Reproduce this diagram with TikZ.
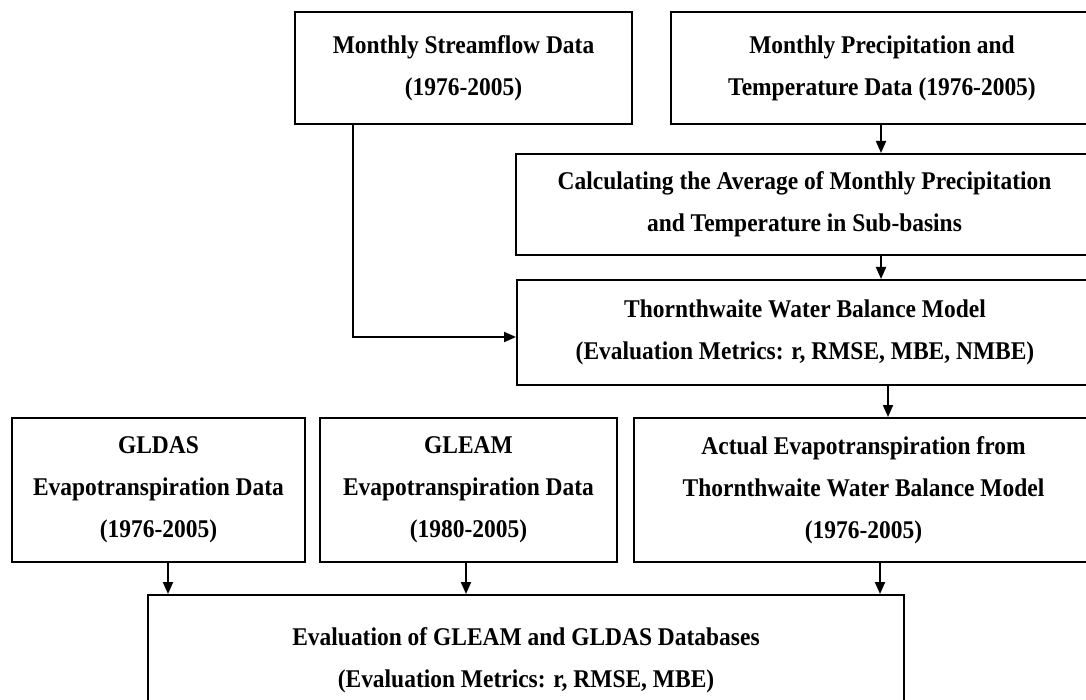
\documentclass[tikz,border=0pt]{standalone}
\usepackage{fontspec}
\setmainfont{Liberation Serif}[FakeStretch=0.92]
\usetikzlibrary{arrows.meta}
\begin{document}
\begin{tikzpicture}[x=1pt,y=-1pt,
  box/.style={draw, line width=2pt, align=center, inner sep=0pt,
    font=\bfseries\fontsize{25.5}{42}\selectfont},
  arr/.style={-{Triangle[width=10pt,length=12pt]}, line width=2pt}]
\useasboundingbox (0,0) rectangle (1086,700);
\clip (0,0) rectangle (1086,700);
\node[box, minimum width=337pt, minimum height=112pt] (b1) at (463.5,68) {Monthly Streamflow Data\\(1976-2005)};
\node[box, minimum width=422pt, minimum height=112pt] (b2) at (882,68) {Monthly Precipitation and\\Temperature Data (1976-2005)};
\node[box, minimum width=577pt, minimum height=101pt] (b3) at (804.5,204.5) {Calculating the Average of Monthly Precipitation\\and Temperature in Sub-basins};
\node[box, minimum width=576pt, minimum height=105pt] (b4) at (805,332.5) {Thornthwaite Water Balance Model\\(Evaluation Metrics: r, RMSE, MBE, NMBE)};
\node[box, minimum width=293pt, minimum height=144pt] (gldas) at (158.5,490) {GLDAS\\Evapotranspiration Data\\(1976-2005)};
\node[box, minimum width=297pt, minimum height=144pt] (gleam) at (468.5,490) {GLEAM\\Evapotranspiration Data\\(1980-2005)};
\node[box, minimum width=459pt, minimum height=144pt] (act) at (863.5,490) {Actual Evapotranspiration from\\Thornthwaite Water Balance Model\\(1976-2005)};
\node[box, minimum width=756pt, minimum height=130pt] (ev) at (526,660) {Evaluation of GLEAM and GLDAS Databases\\(Evaluation Metrics: r, RMSE, MBE)};
\coordinate (xa) at (881,0);
\coordinate (xb) at (888,0);
\coordinate (sx) at (353,337);
\coordinate (x1) at (168,0);
\coordinate (x2) at (466,0);
\coordinate (x3) at (880,0);
\draw[arr] (xa |- b2.south) -- (xa |- b3.north);
\draw[arr] (xa |- b3.south) -- (xa |- b4.north);
\draw[arr] (xb |- b4.south) -- (xb |- act.north);
\draw[arr] (sx |- b1.south) -- (sx) -- (b4.west |- sx);
\draw[arr] (x1 |- gldas.south) -- (x1 |- ev.north);
\draw[arr] (x2 |- gleam.south) -- (x2 |- ev.north);
\draw[arr] (x3 |- act.south) -- (x3 |- ev.north);
\end{tikzpicture}
\end{document}
